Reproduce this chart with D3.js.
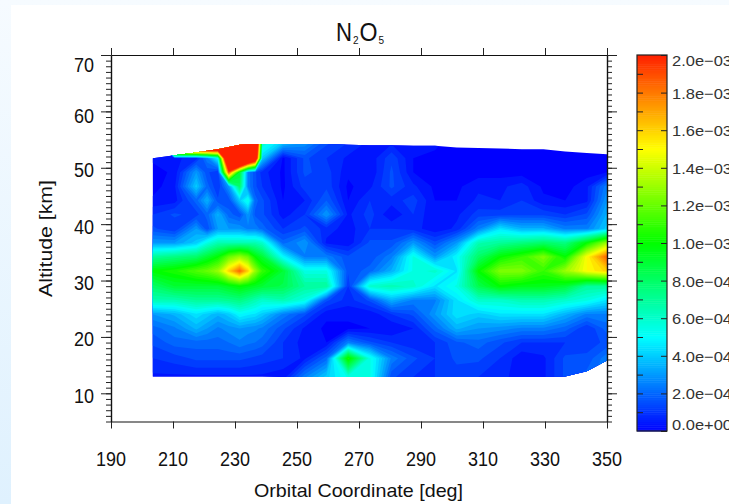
<!DOCTYPE html>
<html>
<head>
<meta charset="utf-8">
<script src="https://cdn.jsdelivr.net/npm/d3@7"></script>
<style>
html, body { margin: 0; padding: 0; background: #fff; overflow: hidden; }
text { font-family: "Liberation Sans", Arial, sans-serif; fill: #111; }
</style>
</head>
<body>
<div id="chart"></div>
<script>
width = 729;
height = 504;

// orbital coordinate of each column [deg], altitude of each row [km]
orbitalCoords = [203.5, 210.5, 217.5, 221, 224.5, 228, 231.5, 234.2, 236.5, 238.8, 245.5, 252.5, 259.5, 266.5, 273.5, 280.5, 287.5, 294.5, 301.5, 308.5, 315.5, 322.5, 329.5, 336.5, 343.5, 350];
altitudes = [12.9, 16.2, 19, 21.5, 24, 26.5, 29, 31.7, 34.2, 36.7, 39.2, 41.7, 44.2, 46.7, 49.2, 51.7, 54.5];

// N2O5 in units of 1e-4, one line per altitude, bottom to top
n2o5 = [
  [.5, .5, .5, .5, .5, .5, .5, .5, .5, .5, .3, 2.5, 4, 5.5, 5.5, 1.5, 1, 1, 1.2, 1, .8, .3, .5, 1.5, 2, 2.5],
  [1, 1.2, 1.5, 1.5, 1.5, 1.5, 1.5, 1.4, 1.3, 1.2, 1, .5, 2, 10.5, 5.5, 2.5, 1.5, 1, 1.5, 1.5, 1, .3, .5, 1.5, 1.5, 2.5],
  [1.5, 2, 2, 2, 2, 2.2, 2.5, 2.3, 2.2, 2, 1, .4, .2, 2.5, 1.5, 1, .7, 1, 1.7, 2, 1.5, 1, 1, 1, 1.2, 1.5],
  [2, 2.5, 3.5, 3, 2.5, 2.8, 3, 2.8, 2.7, 2.5, 1.5, .5, .1, .1, .2, .2, .6, 2, 3.5, 3, 2.8, 2.5, 2.5, 2, 1, 2],
  [3, 3.5, 4.5, 4, 3.5, 4, 5, 4.7, 4.5, 4, 2.5, 1.5, .3, .3, .3, 1, 1.5, 3, 4.5, 4, 4.5, 4.5, 4.5, 3.5, 2.5, 2.5],
  [6.5, 6.5, 7, 7, 7, 7.2, 7.5, 7, 6.5, 6, 6.5, 5.5, 1.5, .8, 1.5, 3.5, 2.5, 2.5, 4.5, 6, 6, 6.5, 6.5, 6, 5.5, 4.5],
  [8, 9, 9, 9, 9, 9.5, 10, 9.6, 9.3, 9, 8.5, 7, 7, 1, 6, 6.5, 6, 4.5, 5.5, 8.5, 10, 9.5, 9.5, 9, 7, 7],
  [10, 10.5, 11.5, 12, 13, 16, 18.5, 16, 13, 11, 9, 5.5, 5.5, 1.5, 2, 3.5, 5.5, 6, 4.5, 10, 12.5, 12.5, 11, 13, 15, 16],
  [7, 7.5, 8, 9, 10, 12, 13, 12, 10, 9, 5, 2.5, 2.5, 1.5, 1.5, 2.5, 5.5, 3, 5, 8, 10, 11, 12.5, 10, 15, 18.5],
  [3, 3, 4, 5.5, 6.5, 6.5, 6.5, 6.5, 6.5, 6, 2, 3, .5, .3, 1.5, 1.5, 3, 1.5, 3, 6.5, 7, 7.5, 8, 7.5, 10, 13],
  [1.5, 1, 3, 1.5, 3, 3, 3, 2.5, 2.5, 2, 1, 1.5, .8, .4, 1, 1, .8, .3, .7, 2.5, 4.5, 3.5, 3.5, 2.5, 2.5, 4],
  [1, 1.5, 1.2, 2, 3.5, 2, 1.5, 3, 1.7, 1.5, .4, 1, 3, .5, 1.2, .2, 1, .2, .5, 1.2, 1.2, 1.3, 1.3, 1, 1.5, 3.5],
  [.3, .4, 2, 3.5, 1.5, 1.5, 4, 5.5, 2, 1.5, .2, .6, 1.8, .2, 1, .8, 1.2, .2, .2, .7, .6, 1, .3, .2, .5, 3],
  [0, .5, 4, 2, 1, 3, 8, 2.5, 1.5, 1, .1, 1.2, 1.3, .1, .5, 1.5, .7, .1, .1, .5, .5, .8, .1, 0, .5, 2.5],
  [0, .3, 3, 1.5, 1, 19, 9, 2.5, 1.5, .8, .1, 1.5, 1.2, .3, .2, 1.5, .2, .1, 0, 0, 0, 0, 0, 0, 0, .2],
  [.3, .5, .8, 2.5, 5, 30, 36, 30, 25, 4, .1, 1.5, 1, .5, .3, 1.3, .2, .1, 0, 0, 0, 0, 0, 0, 0, 0],
  [.5, 40, 40, 38, 36, 36, 36, 33, 30, 6, 4, 3, 1.5, 1, .5, .5, .5, .3, 0, 0, 0, 0, 0, 0, 0, 0]
];

// upper and lower edge of the measured area, per column
topEdge = [51.7, 52.2, 52.7, 53, 53.3, 53.7, 54.1, 54.2, 54.2, 54.2, 54.2, 54.2, 54.2, 54.1, 54, 54, 53.9, 53.9, 53.6, 53.5, 53.4, 53.3, 53.3, 52.9, 52.6, 52.4];
bottomEdge = [13, 13, 13, 13, 13, 13, 13, 13, 13, 13, 12.9, 12.9, 12.9, 12.9, 12.9, 12.9, 12.9, 12.9, 12.9, 12.9, 12.9, 12.9, 12.9, 13, 13.9, 15.8];

xTicks = [190, 210, 230, 250, 270, 290, 310, 330, 350];
yTicks = [10, 20, 30, 40, 50, 60, 70];
yMinorTicks = d3.range(5, 71);
colorTicks = [0, 2, 4, 6, 8, 10, 12, 14, 16, 18, 20];
colorLabels = ["0.0e+00", "2.0e\u221204", "4.0e\u221204", "6.0e\u221204", "8.0e\u221204", "1.0e\u221203", "1.2e\u221203", "1.4e\u221203", "1.6e\u221203", "1.8e\u221203", "2.0e\u221203"];

var xScale = d3.scaleLinear().domain([190, 350]).range([111, 607]);
var yScale = d3.scaleLinear().domain([70, 5]).range([55, 421.5]);
var barScale = d3.scaleLinear().domain([0, 20]).range([431, 55]);
var color = d3.scaleLinear()
    .domain([0, 5, 10, 15, 20])
    .range(["#0000ff", "#00ffff", "#00ff00", "#ffff00", "#ff2000"]);

var svg = d3.select("#chart").append("svg")
    .attr("width", width)
    .attr("height", height)
    .style("display", "block");

// page background behind the white panel
var bg = svg.append("defs").append("linearGradient")
    .attr("id", "bg").attr("x1", 0).attr("x2", 0).attr("y1", 0).attr("y2", 1);
bg.append("stop").attr("offset", 0).attr("stop-color", "#f6fbff");
bg.append("stop").attr("offset", 1).attr("stop-color", "#dff1fe");
svg.append("rect").attr("width", width).attr("height", height).attr("fill", "url(#bg)");
svg.append("rect").attr("x", 11).attr("y", 5).attr("width", width - 11).attr("height", height - 5).attr("fill", "#fff");

// clip to the measured area
var edgeArea = d3.area()
    .x(function(d, i) { return xScale(orbitalCoords[i]); })
    .y0(function(d, i) { return yScale(bottomEdge[i]); })
    .y1(function(d, i) { return yScale(topEdge[i]); });
svg.select("defs").append("clipPath").attr("id", "field")
    .append("path").attr("d", edgeArea(orbitalCoords));

// filled contours; d3.contours puts grid node i at i + 0.5
var xIndex = d3.scaleLinear().domain(orbitalCoords.map(function(d, i) { return i + 0.5; })).range(orbitalCoords.map(xScale));
var yIndex = d3.scaleLinear().domain(altitudes.map(function(d, i) { return i + 0.5; })).range(altitudes.map(yScale));
var path = d3.geoPath(d3.geoTransform({
    point: function(x, y) { this.stream.point(xIndex(x), yIndex(y)); }
}));

var levels = d3.range(-0.2, 20, 0.4);
var contours = d3.contours()
    .size([orbitalCoords.length, altitudes.length])
    .thresholds(levels)(d3.merge(n2o5));

svg.append("g").attr("clip-path", "url(#field)")
    .selectAll("path")
    .data(contours)
    .enter()
    .append("path")
    .attr("d", path)
    .attr("fill", function(d) { return color(Math.min(20, d.value + 0.2)); });

// axes
function styleAxis(g) {
    g.select(".domain").attr("stroke", "#111").attr("stroke-width", 1.2);
    g.selectAll(".tick line").attr("stroke", "#222").attr("stroke-width", 1);
    g.selectAll("text").remove();
}
svg.append("g").attr("transform", "translate(0,421.5)")
    .call(d3.axisBottom(xScale).tickValues(xTicks).tickSize(7).tickSizeOuter(0)).call(styleAxis);
svg.append("g").attr("transform", "translate(0,55)")
    .call(d3.axisTop(xScale).tickValues(xTicks).tickSize(7).tickSizeOuter(0)).call(styleAxis);
svg.append("g").attr("transform", "translate(111,0)")
    .call(d3.axisLeft(yScale).tickValues(yMinorTicks).tickSize(5).tickSizeOuter(0)).call(styleAxis);
svg.append("g").attr("transform", "translate(111,0)")
    .call(d3.axisLeft(yScale).tickValues(yTicks).tickSize(10).tickSizeOuter(0)).call(styleAxis);
svg.append("g").attr("transform", "translate(607,0)")
    .call(d3.axisRight(yScale).tickValues(yMinorTicks).tickSize(5).tickSizeOuter(0)).call(styleAxis);
svg.append("g").attr("transform", "translate(607,0)")
    .call(d3.axisRight(yScale).tickValues(yTicks).tickSize(10).tickSizeOuter(0)).call(styleAxis);

// tick labels
svg.append("g").selectAll("text").data(xTicks).enter().append("text")
    .attr("x", xScale)
    .attr("y", 466)
    .attr("text-anchor", "middle")
    .attr("font-size", 20)
    .attr("textLength", 30)
    .attr("lengthAdjust", "spacingAndGlyphs")
    .text(function(d) { return d; });
svg.append("g").selectAll("text").data(yTicks).enter().append("text")
    .attr("x", 94)
    .attr("y", function(d) { return yScale(d) + (d == 70 ? 17 : d == 60 ? 11.5 : 9.5); })
    .attr("text-anchor", "end")
    .attr("font-size", 20)
    .attr("textLength", 20)
    .attr("lengthAdjust", "spacingAndGlyphs")
    .text(function(d) { return d; });

svg.append("text")
    .attr("x", 358.5).attr("y", 497)
    .attr("text-anchor", "middle")
    .attr("font-size", 19)
    .attr("textLength", 209)
    .attr("lengthAdjust", "spacingAndGlyphs")
    .text("Orbital Coordinate [deg]");
svg.append("text")
    .attr("transform", "translate(52,238.5) rotate(-90)")
    .attr("text-anchor", "middle")
    .attr("font-size", 19)
    .attr("textLength", 117)
    .attr("lengthAdjust", "spacingAndGlyphs")
    .text("Altitude [km]");

var title = svg.append("text").attr("x", 336).attr("y", 41).attr("font-size", 25);
title.append("tspan").attr("textLength", 16).attr("lengthAdjust", "spacingAndGlyphs").text("N");
title.append("tspan").attr("font-size", 10).attr("dx", 1).attr("dy", 3).text("2");
title.append("tspan").attr("dx", 1).attr("dy", -3).attr("textLength", 18).attr("lengthAdjust", "spacingAndGlyphs").text("O");
title.append("tspan").attr("font-size", 10).attr("dx", 1).attr("dy", 3).text("5");

// color bar
var barLevels = d3.range(0, 20, 0.1);
svg.append("g").selectAll("rect").data(barLevels).enter().append("rect")
    .attr("x", 637)
    .attr("width", 30)
    .attr("y", function(d) { return barScale(d + 0.1); })
    .attr("height", function(d) { return barScale(d) - barScale(d + 0.1) + 0.5; })
    .attr("fill", function(d) { return color(d + 0.05); });
svg.append("rect")
    .attr("x", 637).attr("y", 55).attr("width", 30).attr("height", 376)
    .attr("fill", "none").attr("stroke", "#222").attr("stroke-width", 1.2);
svg.append("g").attr("transform", "translate(637,0)")
    .call(d3.axisRight(barScale).tickValues(d3.range(1, 20)).tickSize(6).tickSizeOuter(0)).call(styleAxis)
    .select(".domain").remove();
svg.append("g").attr("transform", "translate(667,0)")
    .call(d3.axisLeft(barScale).tickValues(colorTicks).tickSize(6).tickSizeOuter(0)).call(styleAxis)
    .select(".domain").remove();
svg.append("g").selectAll("text").data(colorTicks).enter().append("text")
    .attr("x", 672)
    .attr("y", function(d, i) { return barScale(d) + (d == 20 ? 11 : d == 0 ? -1 : 6); })
    .attr("font-size", 15)
    .attr("textLength", 60)
    .attr("lengthAdjust", "spacingAndGlyphs")
    .style("fill", "#333")
    .text(function(d, i) { return colorLabels[i]; });
</script>
</body>
</html>
